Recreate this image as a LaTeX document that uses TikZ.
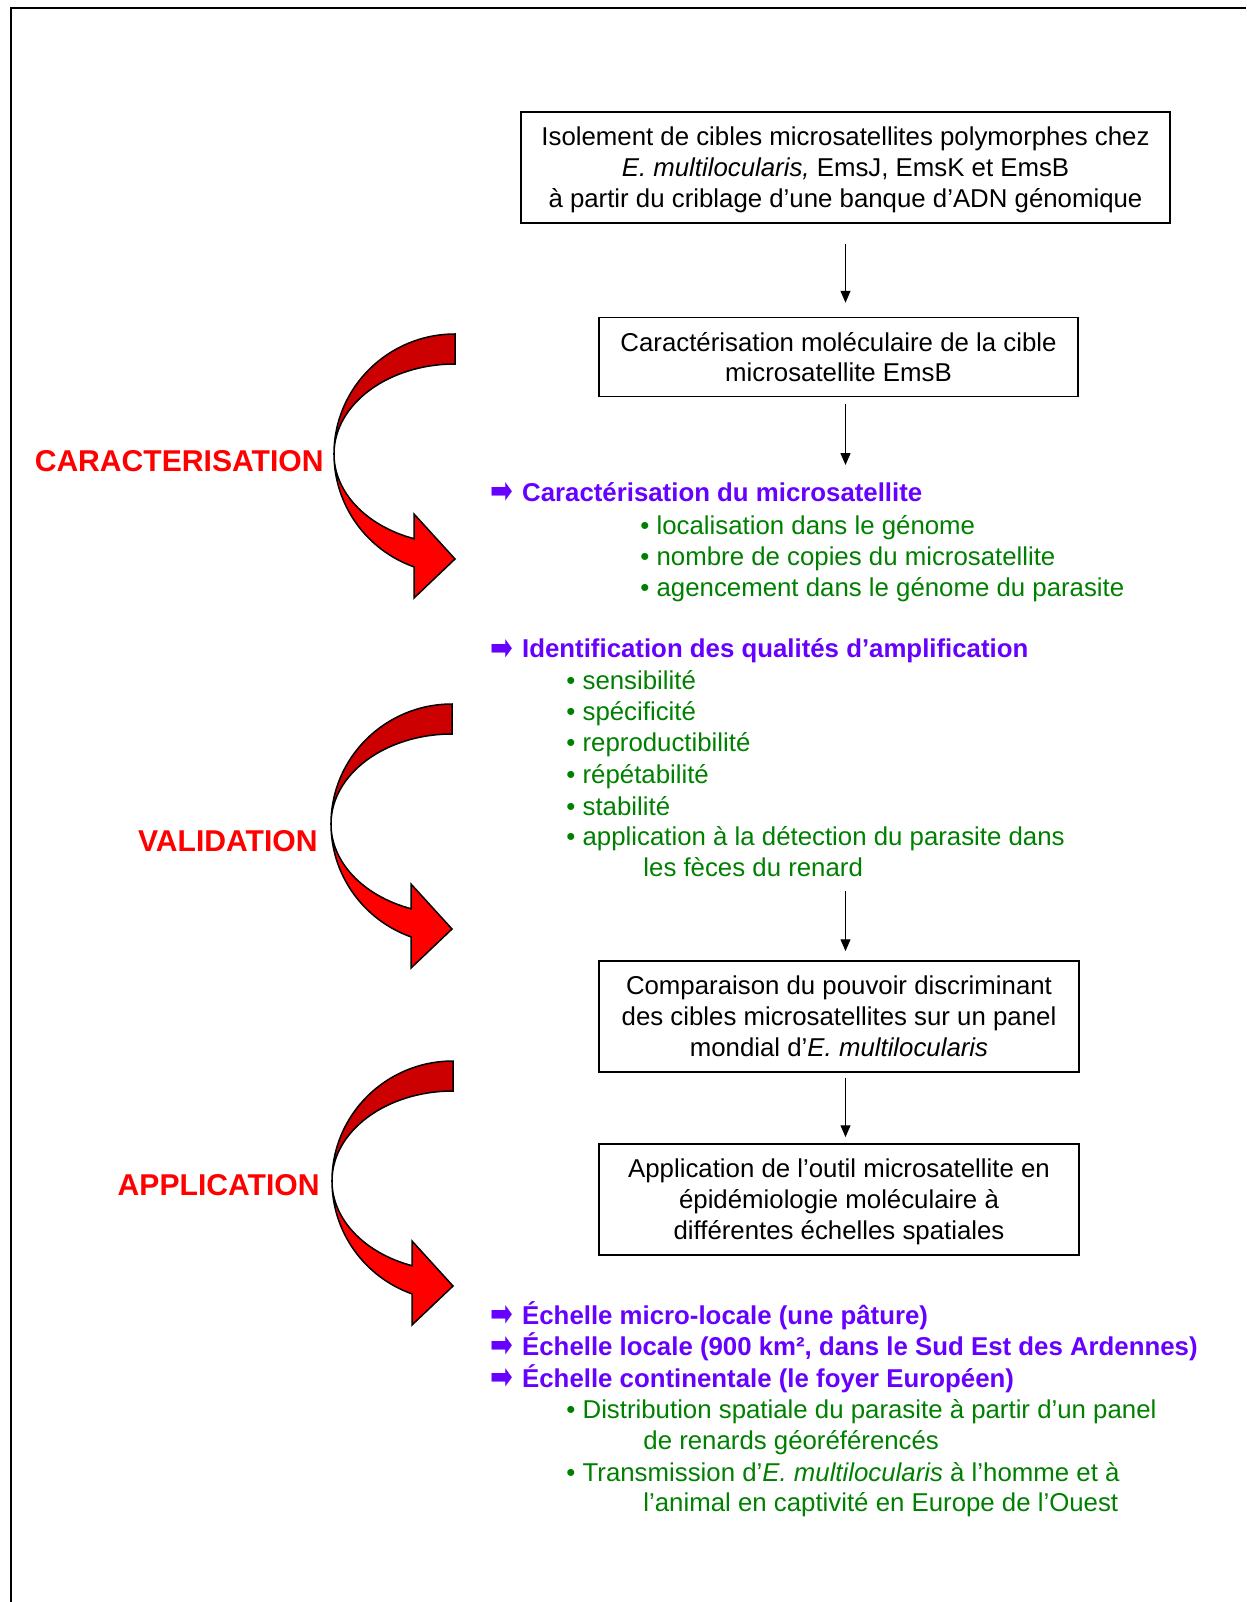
\documentclass[tikz,border=0pt]{standalone}
\usepackage{fontspec}
\setmainfont{Liberation Sans}
\newfontfamily\arrowfont{DejaVu Sans}
\usepackage{xcolor}
\usepackage{graphicx}
\usepackage{tikz}
\usetikzlibrary{arrows, arrows.meta, positioning}
\definecolor{headviolet}{HTML}{6600FF}
\definecolor{itemgreen}{HTML}{008000}
\definecolor{bandred}{HTML}{FF0000}
\definecolor{banddark}{HTML}{CC0000}
\tikzset{every node/.style={font=\fontsize{12pt}{14.4pt}\selectfont}}
\newcommand{\goto}{\smash{\raisebox{-1.2pt}{\scalebox{1.05}[1.45]{\arrowfont\mdseries ➡}}}\hspace{4.2pt}}
% big curved arrow, centre of its ellipses at (#1,#2)
\newcommand{\curvedarrow}[2]{%
  \begin{scope}[shift={(#1,#2)}, line width=0.7pt, line join=miter]
    \filldraw[fill=banddark] (0,-120) arc[start angle=90, end angle=180, x radius=56.27pt, y radius=55.8pt]
      arc[start angle=180, end angle=90, x radius=56.27pt, y radius=41.85pt] -- cycle;
    \filldraw[fill=bandred] (-121,0) arc[start angle=180, end angle=250.2, x radius=56.27pt, y radius=55.8pt]
      -- (-41,144) -- (0,105) -- (-41,60) -- (-41,84.7)
      arc[start angle=250.2, end angle=180, x radius=56.27pt, y radius=41.85pt] -- cycle;
  \end{scope}}

\begin{document}
\begin{tikzpicture}[x=0.465pt, y=-0.465pt]
    % Define styles
    \tikzstyle{stepbox} = [rectangle, draw=black, line width=0.8pt, align=center, inner sep=0pt, text depth=0pt, minimum width=222.9pt, minimum height=51.6pt]
    \tikzstyle{stage} = [anchor=east, inner sep=0pt, text=bandred, font=\fontsize{14pt}{16.8pt}\selectfont\bfseries]
    \tikzstyle{heading} = [anchor=base west, inner sep=0pt, text=headviolet, font=\fontsize{12pt}{14.4pt}\selectfont\bfseries]
    \tikzstyle{item} = [anchor=base west, inner sep=0pt, text=itemgreen]
    \tikzstyle{flow} = [line width=0.6pt, -{Triangle[length=5.5pt, width=4.6pt]}]

    \useasboundingbox (0,0) rectangle (1246,1602);
    \draw [line width=1pt] (11,1602) -- (11,8) -- (1246,8);

    % Boxes
    \node (isol) [stepbox, minimum width=301.8pt] at (845.5,167.5) {Isolement de cibles microsatellites polymorphes chez\\ \textit{E. multilocularis,} EmsJ, EmsK et EmsB\\ à partir du criblage d’une banque d’ADN génomique};
    \node (carac) [stepbox, minimum height=36.7pt] at (838.5,357) {Caractérisation moléculaire de la cible\\ microsatellite EmsB};
    \node (compar) [stepbox] at (839,1016.5) {Comparaison du pouvoir discriminant\\ des cibles microsatellites sur un panel\\ mondial d’\textit{E. multilocularis}};
    \node (appli) [stepbox] at (839,1199.5) {Application de l’outil microsatellite en\\ épidémiologie moléculaire à\\ différentes échelles spatiales};

    % Stage labels
    \node (lcarac) [stage] at (324,461) {CARACTERISATION};
    \node (lvalid) [stage] at (318,841) {VALIDATION};
    \node (lappli) [stage] at (320,1185) {APPLICATION};

    % Curved arrows
    \curvedarrow{455}{454}
    \curvedarrow{452}{824}
    \curvedarrow{453}{1181}

    % Caracterisation du microsatellite
    \node (hcarac) [heading] at (490,501) {\goto Caractérisation du microsatellite};
    \node (loc) [item] at (640,534) {• localisation dans le génome};
    \node (copies) [item] at (640,565) {• nombre de copies du microsatellite};
    \node (agenc) [item] at (640,596) {• agencement dans le génome du parasite};

    % Qualites d'amplification
    \node (hampl) [heading] at (490,657.5) {\goto Identification des qualités d’amplification};
    \node (sens) [item] at (566,689) {• sensibilité};
    \node (spec) [item] at (566,720) {• spécificité};
    \node (repro) [item] at (566,751.5) {• reproductibilité};
    \node (repet) [item] at (566,783) {• répétabilité};
    \node (stab) [item] at (566,815) {• stabilité};
    \node (detec) [item] at (566,845) {• application à la détection du parasite dans};
    \node (detec2) [item] at (643,876) {les fèces du renard};

    % Echelles
    \node (emicro) [heading] at (490,1324) {\goto Échelle micro-locale (une pâture)};
    \node (elocal) [heading] at (490,1355) {\goto Échelle locale (900 km², dans le Sud Est des Ardennes)};
    \node (econt) [heading] at (490,1387) {\goto Échelle continentale (le foyer Européen)};
    \node (distr) [item] at (566,1418) {• Distribution spatiale du parasite à partir d’un panel};
    \node (distr2) [item] at (643,1449) {de renards géoréférencés};
    \node (trans) [item] at (566,1481) {• Transmission d’\textit{E. multilocularis} à l’homme et à};
    \node (trans2) [item] at (643,1511) {l’animal en captivité en Europe de l’Ouest};

    % Connectors
    \coordinate (join1) at (845.5,465);
    \coordinate (join2) at (845.5,891);
    \draw [flow, shorten <=9.3pt, shorten >=6.5pt] (isol.south) -- (isol.south |- carac.north);
    \draw [flow, shorten <=3.3pt] (carac.south -| join1) -- (join1);
    \draw [flow, shorten >=4.2pt] (join2) -- (join2 |- compar.north);
    \draw [flow, shorten <=2.3pt, shorten >=2.8pt] (compar.south -| join2) -- (join2 |- appli.north);
\end{tikzpicture}
\end{document}
